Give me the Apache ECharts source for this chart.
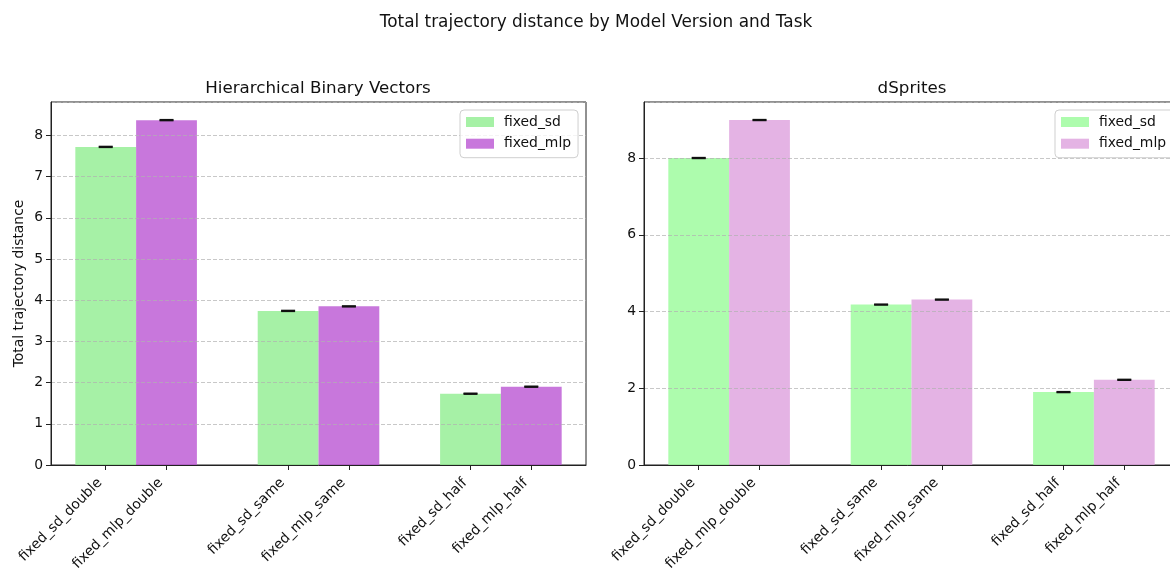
<!DOCTYPE html>
<html>
<head>
<meta charset="utf-8">
<script src="https://cdn.jsdelivr.net/npm/echarts@6/dist/echarts.min.js"></script>
<style>
  html, body { margin: 0; padding: 0; background: #fff; }
  #chart { width: 1170px; height: 568px; }
</style>
</head>
<body>
<div id="chart"></div>
<script>
// Tasks (bar groups) and the per-bar tick labels
const tasks = ['double', 'same', 'half'];
const tickLabels = ['fixed_sd_double', 'fixed_mlp_double', 'fixed_sd_same', 'fixed_mlp_same', 'fixed_sd_half', 'fixed_mlp_half'];
const seriesNames = ['fixed_sd', 'fixed_mlp'];

// Hierarchical Binary Vectors: mean total trajectory distance and spread
const hbvSd = [7.72, 3.74, 1.73];
const hbvMlp = [8.37, 3.85, 1.90];
const hbvSdErr = [0.01, 0.01, 0.01];
const hbvMlpErr = [0.01, 0.01, 0.01];

// dSprites: mean total trajectory distance and spread
const dspSd = [8.00, 4.18, 1.90];
const dspMlp = [8.99, 4.31, 2.22];
const dspSdErr = [0.01, 0.01, 0.01];
const dspMlpErr = [0.01, 0.01, 0.01];

const FONT = 'DejaVu Sans';
const BAR_W = 1 / 3;            // bar width in group units
const OFFSET = BAR_W / 2;       // each bar sits half a bar from the group centre
const X_MIN = -0.4667;
const X_MAX = tasks.length - 1 + 0.4667;
const TICK_POS = [];
tasks.forEach((t, g) => { TICK_POS.push(g - OFFSET, g + OFFSET); });

const colors = {
  hbv: ['rgba(144,238,144,0.8)', 'rgba(186,85,211,0.8)'],
  dsp: ['rgba(152,251,152,0.8)', 'rgba(221,160,221,0.8)']
};

function barData(values, errs, side) {
  return values.map((v, g) => [g + side * OFFSET, v, errs[g]]);
}

function renderBar(params, api) {
  const x = api.value(0), y = api.value(1);
  const p0 = api.coord([x - BAR_W / 2, y]);
  const p1 = api.coord([x + BAR_W / 2, 0]);
  return {
    type: 'rect',
    shape: { x: p0[0], y: p0[1], width: p1[0] - p0[0], height: p1[1] - p0[1] },
    style: { fill: api.visual('color') }
  };
}

function renderErr(params, api) {
  const x = api.value(0), y = api.value(1), e = api.value(2);
  const top = api.coord([x, y + e]);
  const bot = api.coord([x, y - e]);
  const cap = 7;
  const st = { stroke: '#111', lineWidth: 1.6 };
  return {
    type: 'group',
    children: [
      { type: 'line', shape: { x1: top[0], y1: top[1], x2: bot[0], y2: bot[1] }, style: st },
      { type: 'line', shape: { x1: top[0] - cap, y1: top[1], x2: top[0] + cap, y2: top[1] }, style: st },
      { type: 'line', shape: { x1: bot[0] - cap, y1: bot[1], x2: bot[0] + cap, y2: bot[1] }, style: st }
    ]
  };
}

function labelFor(v) {
  let best = 0, d = Infinity;
  TICK_POS.forEach((p, i) => { const dd = Math.abs(p - v); if (dd < d) { d = dd; best = i; } });
  return tickLabels[best];
}

function xAxisFor(gridIndex) {
  return {
    type: 'value', gridIndex: gridIndex,
    min: X_MIN, max: X_MAX,
    splitLine: { show: false },
    axisLine: { show: true, onZero: false, lineStyle: { color: '#222', width: 1 } },
    axisTick: { show: true, customValues: TICK_POS, length: 5, lineStyle: { color: '#222' } },
    axisLabel: {
      customValues: TICK_POS, rotate: 45, margin: 10, padding: [0, 8, 0, 0],
      fontFamily: FONT, fontSize: 13.9, color: '#111',
      formatter: labelFor
    },
    z: 3
  };
}

function yAxisFor(gridIndex, max, interval, name) {
  return {
    type: 'value', gridIndex: gridIndex, min: 0, max: max, interval: interval,
    name: name, nameLocation: 'middle', nameGap: 25,
    nameTextStyle: { fontFamily: FONT, fontSize: 13.9, color: '#111' },
    axisLine: { show: true, onZero: false, lineStyle: { color: '#222', width: 1 } },
    axisTick: { show: true, length: 5, lineStyle: { color: '#222' } },
    axisLabel: {
      fontFamily: FONT, fontSize: 13.9, color: '#111', margin: 8,
      showMaxLabel: false,
      formatter: v => (Math.abs(v % interval) < 1e-9 ? String(v) : '')
    },
    splitLine: { show: true, lineStyle: { color: 'rgba(176,176,176,0.7)', type: [4, 2], width: 1 } },
    z: 3
  };
}

function legendFor(left, cols, padRight) {
  return {
    orient: 'vertical', left: left, top: 110,
    icon: 'rect', itemWidth: 28, itemHeight: 10, itemGap: 5.7,
    padding: [4, padRight, 6, 6],
    backgroundColor: 'rgba(255,255,255,0.8)',
    borderColor: '#cfcfcf', borderWidth: 1, borderRadius: 4,
    textStyle: { fontFamily: FONT, fontSize: 13.9, color: '#111', lineHeight: 16, padding: [0, 0, 0, 5] },
    selectedMode: false,
    data: seriesNames.map((n, i) => ({ name: n, itemStyle: { color: cols[i] } })),
    z: 10
  };
}

const gridBox = { top: 102, width: 535, height: 363, show: true, borderColor: '#222', borderWidth: 1,
                  backgroundColor: 'transparent', outerBoundsMode: 'none', containLabel: false };

const option = {
  animation: false,
  backgroundColor: '#fff',
  title: [
    { text: 'Total trajectory distance by Model Version and Task', left: 596, top: 14, textAlign: 'center', padding: 0,
      textStyle: { fontFamily: FONT, fontSize: 16.9, fontWeight: 'normal', color: '#111' } },
    { text: 'Hierarchical Binary Vectors', left: 318, top: 80, textAlign: 'center', padding: 0,
      textStyle: { fontFamily: FONT, fontSize: 16.7, fontWeight: 'normal', color: '#111' } },
    { text: 'dSprites', left: 912, top: 80, textAlign: 'center', padding: 0,
      textStyle: { fontFamily: FONT, fontSize: 16.7, fontWeight: 'normal', color: '#111' } }
  ],
  grid: [
    Object.assign({ left: 51 }, gridBox),
    Object.assign({ left: 644 }, gridBox)
  ],
  xAxis: [xAxisFor(0), xAxisFor(1)],
  yAxis: [
    yAxisFor(0, 8.81, 1, 'Total trajectory distance'),
    yAxisFor(1, 9.46, 2, '')
  ],
  legend: [legendFor(460, colors.hbv, 7), legendFor(1055, colors.dsp, 14)],
  series: [
    { name: 'fixed_sd', type: 'custom', xAxisIndex: 0, yAxisIndex: 0, renderItem: renderBar, itemStyle: { color: colors.hbv[0] }, data: barData(hbvSd, hbvSdErr, -1), z: 2 },
    { name: 'fixed_mlp', type: 'custom', xAxisIndex: 0, yAxisIndex: 0, renderItem: renderBar, itemStyle: { color: colors.hbv[1] }, data: barData(hbvMlp, hbvMlpErr, 1), z: 2 },
    { name: 'fixed_sd', type: 'custom', xAxisIndex: 1, yAxisIndex: 1, renderItem: renderBar, itemStyle: { color: colors.dsp[0] }, data: barData(dspSd, dspSdErr, -1), z: 2 },
    { name: 'fixed_mlp', type: 'custom', xAxisIndex: 1, yAxisIndex: 1, renderItem: renderBar, itemStyle: { color: colors.dsp[1] }, data: barData(dspMlp, dspMlpErr, 1), z: 2 },
    { type: 'custom', xAxisIndex: 0, yAxisIndex: 0, renderItem: renderErr, data: barData(hbvSd, hbvSdErr, -1), z: 5 },
    { type: 'custom', xAxisIndex: 0, yAxisIndex: 0, renderItem: renderErr, data: barData(hbvMlp, hbvMlpErr, 1), z: 5 },
    { type: 'custom', xAxisIndex: 1, yAxisIndex: 1, renderItem: renderErr, data: barData(dspSd, dspSdErr, -1), z: 5 },
    { type: 'custom', xAxisIndex: 1, yAxisIndex: 1, renderItem: renderErr, data: barData(dspMlp, dspMlpErr, 1), z: 5 }
  ]
};

const chart = echarts.init(document.getElementById('chart'), null, { renderer: 'canvas' });
chart.setOption(option);
</script>
</body>
</html>
